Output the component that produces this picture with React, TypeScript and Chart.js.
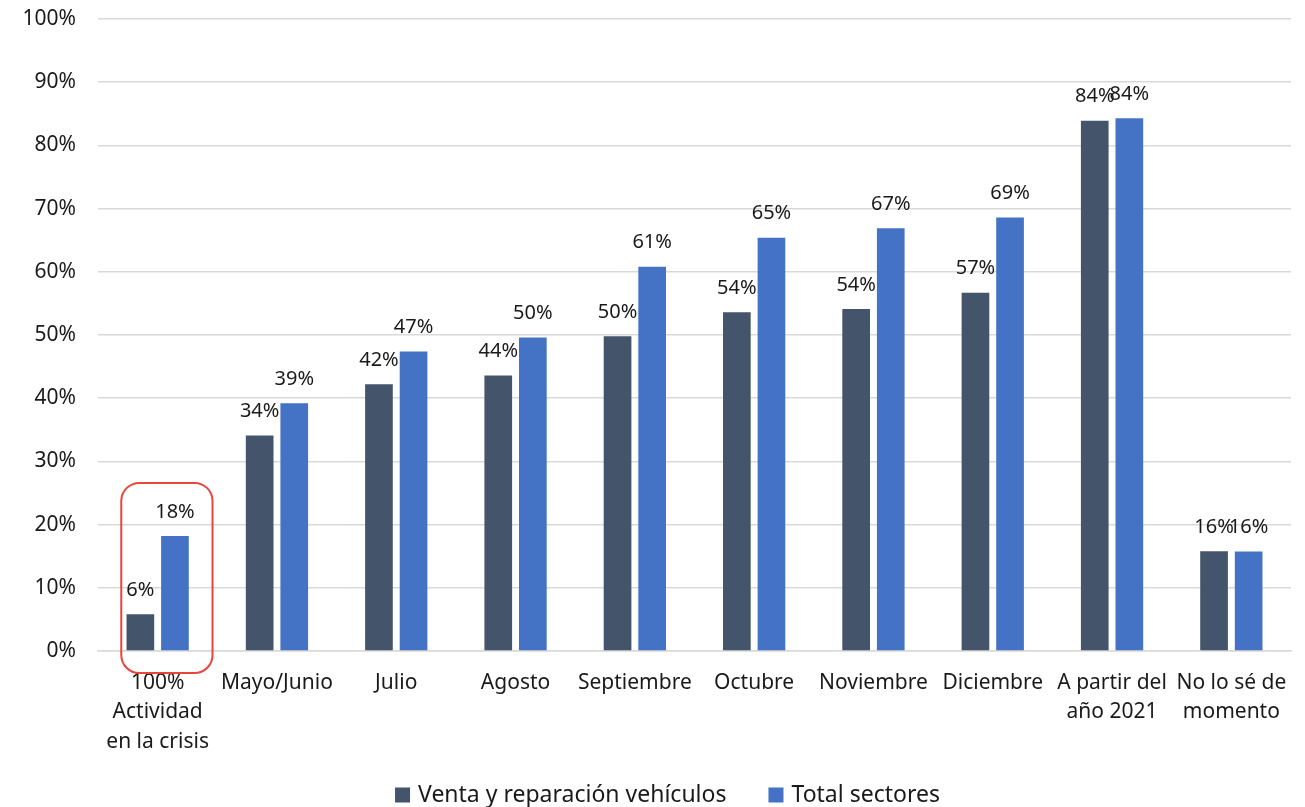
import React, { useEffect, useRef } from "react";
import { Chart, registerables } from "chart.js";

Chart.register(...registerables);

const categories: (string | string[])[] = [
  ["100%", "Actividad", "en la crisis"],
  "Mayo/Junio",
  "Julio",
  "Agosto",
  "Septiembre",
  "Octubre",
  "Noviembre",
  "Diciembre",
  ["A partir del", "año 2021"],
  ["No lo sé de", "momento"],
];
const ventaReparacion = [5.8, 34.1, 42.2, 43.6, 49.8, 53.6, 54.1, 56.7, 83.9, 15.8];
const totalSectores = [18.2, 39.2, 47.4, 49.6, 60.8, 65.4, 66.9, 68.6, 84.3, 15.75];
const seriesNames = ["Venta y reparación vehículos", "Total sectores"];
const seriesColors = ["#44546a", "#4472c4"];
const yTicks = [0, 10, 20, 30, 40, 50, 60, 70, 80, 90, 100];

const FONT = "'Noto Sans', 'Liberation Sans', sans-serif";

const labelPlugin = {
  id: "barLabels",
  afterDatasetsDraw(chart: any) {
    const ctx = chart.ctx;
    ctx.save();
    ctx.font = `20px ${FONT}`;
    ctx.fillStyle = "#1a1a1a";
    ctx.textAlign = "center";
    ctx.textBaseline = "middle";
    chart.data.datasets.forEach((ds: any, di: number) => {
      const meta = chart.getDatasetMeta(di);
      meta.data.forEach((bar: any, i: number) => {
        const v = ds.data[i];
        ctx.fillText(Math.round(v) + "%", bar.x, bar.y - 24);
      });
    });
    ctx.restore();
  },
};

const legendPlugin = {
  id: "customLegend",
  afterDraw(chart: any) {
    const ctx = chart.ctx;
    ctx.save();
    ctx.font = `23px ${FONT}`;
    ctx.textBaseline = "middle";
    ctx.textAlign = "left";
    const box = 15;
    const boxGap = 8;
    const itemGap = 42;
    const items = chart.data.datasets.map((ds: any) => ({
      text: ds.label,
      color: ds.backgroundColor,
      w: ctx.measureText(ds.label).width,
    }));
    const total = items.reduce(
      (s: number, it: any, i: number) => s + box + boxGap + it.w + (i > 0 ? itemGap : 0),
      0
    );
    const cy = chart.height - 12;
    let x = chart.width / 2 + 15 - total / 2;
    items.forEach((it: any, i: number) => {
      if (i > 0) x += itemGap;
      ctx.fillStyle = it.color;
      ctx.fillRect(x, cy - box / 2, box, box);
      x += box + boxGap;
      ctx.fillStyle = "#1a1a1a";
      ctx.fillText(it.text, x, cy);
      x += it.w;
    });
    ctx.restore();
  },
};

const highlightPlugin = {
  id: "highlight",
  afterDraw(chart: any) {
    const x = chart.scales.x;
    const y = chart.scales.y;
    const cx = x.getPixelForValue(0);
    const cw = (x.right - x.left) / categories.length;
    const left = cx - cw * 0.305;
    const right = cx + cw * 0.46;
    const top = y.getPixelForValue(26.6);
    const bottom = y.bottom + 22;
    const r = 18;
    const ctx = chart.ctx;
    ctx.save();
    ctx.strokeStyle = "#e8463a";
    ctx.lineWidth = 2;
    ctx.beginPath();
    ctx.moveTo(left + r, top);
    ctx.lineTo(right - r, top);
    ctx.arcTo(right, top, right, top + r, r);
    ctx.lineTo(right, bottom - r);
    ctx.arcTo(right, bottom, right - r, bottom, r);
    ctx.lineTo(left + r, bottom);
    ctx.arcTo(left, bottom, left, bottom - r, r);
    ctx.lineTo(left, top + r);
    ctx.arcTo(left, top, left + r, top, r);
    ctx.closePath();
    ctx.stroke();
    ctx.restore();
  },
};

export default function App() {
  const ref = useRef<HTMLCanvasElement | null>(null);
  useEffect(() => {
    if (!ref.current) return;
    const chart = new Chart(ref.current, {
      type: "bar",
      data: {
        labels: categories,
        datasets: [
          {
            label: seriesNames[0],
            data: ventaReparacion,
            backgroundColor: seriesColors[0],
            categoryPercentage: 0.58,
            barPercentage: 0.8,
          },
          {
            label: seriesNames[1],
            data: totalSectores,
            backgroundColor: seriesColors[1],
            categoryPercentage: 0.58,
            barPercentage: 0.8,
          },
        ],
      },
      options: {
        animation: false,
        responsive: true,
        maintainAspectRatio: false,
        layout: { padding: { top: 19, right: 14, left: 0, bottom: 0 } },
        scales: {
          x: {
            grid: { display: false, drawTicks: false },
            border: { display: true, color: "#d9d9d9", width: 1.5 },
            ticks: {
              color: "#1a1a1a",
              font: { family: FONT, size: 21, lineHeight: "29.5px" as any },
              padding: 17,
              maxRotation: 0,
              autoSkip: false,
            },
            afterFit(scale: any) {
              scale.height = 156;
              scale.paddingLeft = 0;
              scale.paddingRight = 0;
            },
          },
          y: {
            min: 0,
            max: 100,
            afterBuildTicks(scale: any) {
              scale.ticks = yTicks.map((v) => ({ value: v }));
            },
            grid: { color: "#d9d9d9", lineWidth: 1.5, drawTicks: false },
            border: { display: false },
            ticks: {
              color: "#1a1a1a",
              font: { family: FONT, size: 21 },
              padding: 22,
              callback: (v: any) => v + "%",
            },
            afterFit(scale: any) {
              scale.width = 98;
              scale.paddingTop = 0;
              scale.paddingBottom = 0;
            },
          },
        },
        plugins: {
          legend: { display: false },
          tooltip: { enabled: false },
        },
      },
      plugins: [labelPlugin, highlightPlugin, legendPlugin],
    });
    return () => chart.destroy();
  }, []);
  return (
    <div style={{ position: "absolute", left: 0, top: 0, width: 1305, height: 807 }}>
      <canvas ref={ref} />
    </div>
  );
}
